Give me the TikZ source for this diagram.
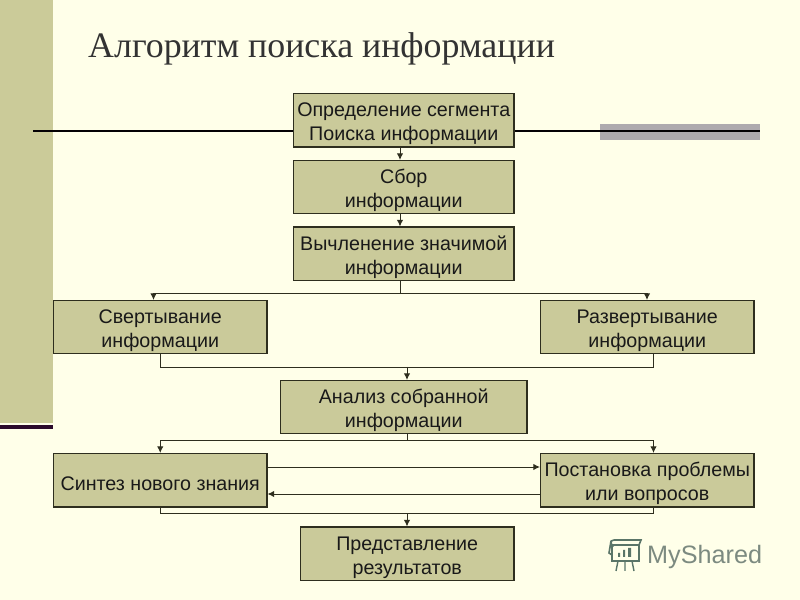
\documentclass[tikz,border=0pt]{standalone}
\usepackage{fontspec}
\setmainfont{Liberation Sans}
\newfontfamily\titlefont{Liberation Serif}
\usetikzlibrary{arrows.meta,calc}
\definecolor{bgpaper}{HTML}{FFFFE9}
\definecolor{boxfill}{HTML}{CACA9A}
\definecolor{bandfill}{HTML}{CBCB99}
\definecolor{greyband}{HTML}{AEAAAE}
\definecolor{darkrule}{HTML}{2B0A2B}
\definecolor{boxline}{HTML}{2E2E1E}
\definecolor{markgreen}{HTML}{5A7568}
\definecolor{markgrey}{HTML}{7C8A80}
\newcommand{\lowered}{\rule{0pt}{18pt}}
\tikzset{
  infobox/.style={draw=boxline,fill=boxfill,line width=0.9pt,inner sep=0pt,align=center,
    font=\fontsize{16.8}{20.9}\selectfont,text=black!90},
  link/.style={draw=boxline,line width=0.8pt},
  linkto/.style={link,-{Latex[length=5.6pt,width=5.4pt]}}
}
\begin{document}
\begin{tikzpicture}[line cap=butt,line join=miter,x=0.03cm,y=-0.03cm]
\useasboundingbox (0,0) rectangle (800,600);
\fill[bgpaper] (0,0) rectangle (800,600);
\fill[bandfill] (0,0) rectangle (53,423);
\fill[darkrule] (0,425) rectangle (53,429);
\fill[greyband] (600,124) rectangle (760,140);
\draw[line width=1.6pt,black!90!darkrule] (33,131) -- (760,131);
\node[anchor=base west,inner sep=0pt,font=\titlefont\fontsize{30.6}{32}\selectfont,text=black!80] (title) at (88,58) {Алгоритм поиска информации};
% boxes
\node[infobox,minimum width=220.5*0.03cm,minimum height=53.5*0.03cm] (segment) at (403.75,120.25) {\lowered Определение сегмента\\Поиска информации};
\node[infobox,minimum width=220.5*0.03cm,minimum height=53*0.03cm] (sbor) at (403.75,187) {\lowered Сбор\\информации};
\node[infobox,minimum width=220.5*0.03cm,minimum height=53.5*0.03cm] (znach) at (403.75,253.75) {\lowered Вычленение значимой\\информации};
\node[infobox,minimum width=213.5*0.03cm,minimum height=53*0.03cm] (svert) at (160.25,327) {\lowered Свертывание\\информации};
\node[infobox,minimum width=213.5*0.03cm,minimum height=53*0.03cm] (razv) at (647.25,327) {\lowered Развертывание\\информации};
\node[infobox,minimum width=246.5*0.03cm,minimum height=53*0.03cm] (analiz) at (403.75,407) {\lowered Анализ собранной\\информации};
\node[infobox,minimum width=213.5*0.03cm,minimum height=53.5*0.03cm] (sintez) at (160.25,480.25) {\lowered Синтез нового знания};
\node[infobox,minimum width=213.5*0.03cm,minimum height=53.5*0.03cm] (postan) at (647.25,480.25) {\lowered Постановка проблемы\\или вопросов};
\node[infobox,minimum width=213.5*0.03cm,minimum height=53.5*0.03cm] (itog) at (407.25,553.75) {\lowered Представление\\результатов};
% connectors
\coordinate (axisa) at (400,0);
\coordinate (axisr) at (653.5,0);
\coordinate (razvl) at (153.5,293.5);
\coordinate (razvr) at (647,293.5);
\coordinate (joina) at (407,367);
\coordinate (joinb) at (407,440);
\coordinate (joinc) at (407,513.5);
\coordinate (upper) at (0,467);
\coordinate (lower) at (0,494);
\draw[linkto] (segment.south -| axisa) -- (sbor.north -| axisa);
\draw[linkto] (sbor.south -| axisa) -- (znach.north -| axisa);
\draw[link] (znach.south -| axisa) -- (razvl -| axisa);
\draw[linkto] (razvl -| axisa) -- (razvl) -- (svert.north -| razvl);
\draw[linkto] (razvr -| axisa) -- (razvr) -- (razv.north -| razvr);
\draw[link] (svert.south) -- (svert.south |- joina) -- (axisr |- joina) -- (razv.south -| axisr);
\draw[linkto] (joina) -- (analiz.north -| joina);
\draw[link] (analiz.south -| joinb) -- (joinb);
\draw[linkto] (joinb) -- (sintez.north |- joinb) -- (sintez.north);
\draw[linkto] (joinb) -- (axisr |- joinb) -- (postan.north -| axisr);
\draw[linkto] (sintez.east |- upper) -- (postan.west |- upper);
\draw[linkto] (postan.west |- lower) -- (sintez.east |- lower);
\draw[link] (sintez.south) -- (sintez.south |- joinc) -- (axisr |- joinc) -- (postan.south -| axisr);
\draw[linkto] (joinc) -- (itog.north -| joinc);
% watermark
\node[anchor=base west,inner sep=0pt,font=\fontsize{21.5}{24}\selectfont,text=markgrey] (mark) at (647,564) {MyShared};
\draw[markgreen,line width=1.4pt] (612,545) rectangle (639,561);
\draw[markgreen,line width=1.4pt] (614,540) -- (641,540) -- (639,545) (614,540) .. controls (609,540) and (611,546) .. (614,546) (611,541) -- (609,553) -- (612,555);
\draw[markgreen,line width=1.2pt] (618,561) -- (616,571) (625,561) -- (625,571) (632,561) -- (634,571);
\fill[markgreen] (618,553) rectangle (620,557) (623,550) rectangle (625,557) (628,548) rectangle (631,557);
\end{tikzpicture}
\end{document}
